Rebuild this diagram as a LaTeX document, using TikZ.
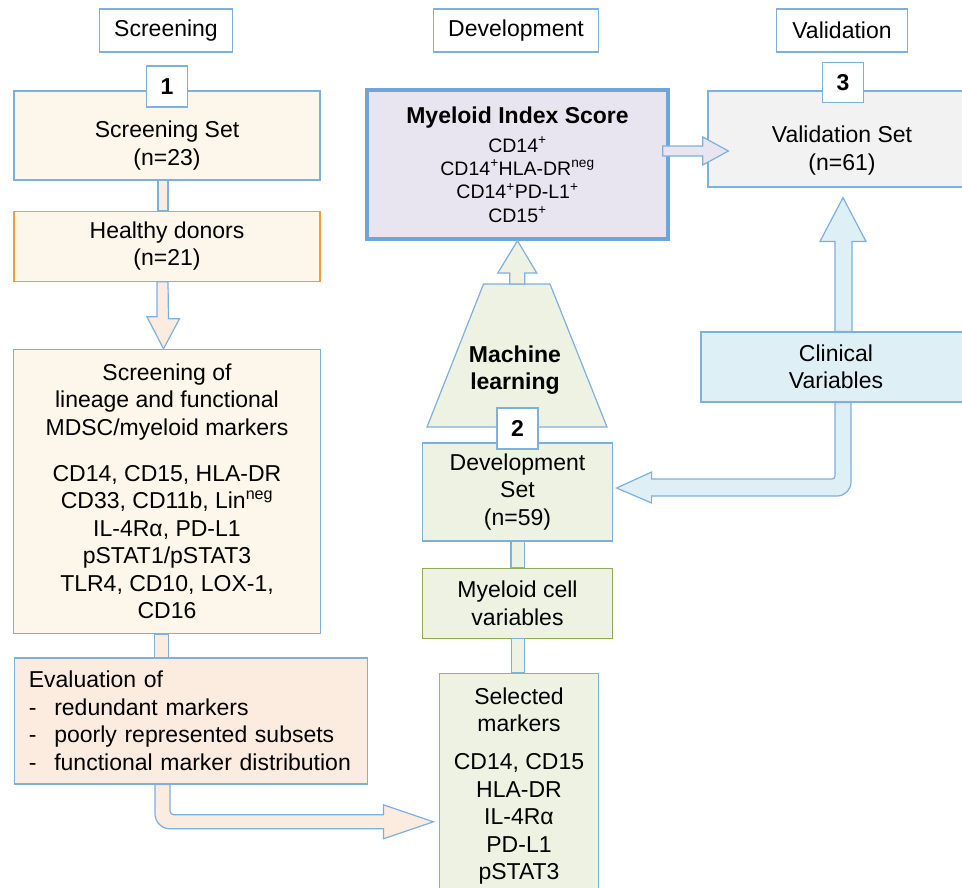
\documentclass[tikz,border=0pt]{standalone}
\usepackage{fontspec}
\setmainfont{Liberation Sans}
\usetikzlibrary{calc,positioning}

\definecolor{lineblue}{HTML}{7DB0DD}
\definecolor{misblue}{HTML}{6FA6DA}
\definecolor{cream}{HTML}{FDF6EA}
\definecolor{peach}{HTML}{FCEBDF}
\definecolor{donororange}{HTML}{F39B35}
\definecolor{lavender}{HTML}{E9E5F0}
\definecolor{valgrey}{HTML}{F2F2F2}
\definecolor{clinblue}{HTML}{DFEFF6}
\definecolor{devgreen}{HTML}{EEF2E3}
\definecolor{olivegreen}{HTML}{8FAA53}
\newcommand{\mainsize}{\fontsize{23}{27.5}\selectfont}
\newcommand{\listsize}{\fontsize{19.5}{23.3}\selectfont}

\begin{document}
\begin{tikzpicture}[x=1pt,y=-1pt,
	box/.style={rectangle,draw=lineblue,line width=1.2pt,align=center,font=\mainsize,inner sep=0pt},
	phase/.style={box,fill=white,minimum height=43pt},
	numbox/.style={box,fill=white,font=\mainsize\bfseries,minimum width=41pt,minimum height=41pt},
	bar/.style={draw=lineblue,line width=1.2pt}
]
\useasboundingbox (0,0) rectangle (962,887);
\clip (0,0) rectangle (962,887);

% phases
\node[phase,minimum width=133pt] (hscr) at (166,30.5) {Screening};
\node[phase,minimum width=165pt] (hdev) at (516,30.5) {Development};
\node[phase,minimum width=131pt] (hval) at (842,30.5) {Validation};

% screening column
\node[box,fill=cream,minimum width=306pt,minimum height=89pt] (sset) at (167,135.5) {\rule{0pt}{37pt}Screening Set\\(n=23)};
\node[box,draw=donororange,fill=cream,minimum width=306pt,minimum height=70pt,below=30pt of sset] (donors) {Healthy donors\\(n=21)};
\node[box,fill=cream,minimum width=307pt,minimum height=284pt,below=67pt of donors] (smark) {Screening of\\lineage and functional\\MDSC/myeloid markers\\[18.5pt]
  CD14, CD15, HLA-DR\\CD33, CD11b, Lin\textsuperscript{neg}\\IL-4Rα, PD-L1\\pSTAT1/pSTAT3\\TLR4, CD10, LOX-1,\\CD16};
\node[box,fill=peach,align=left,text width=325pt,minimum height=126pt,inner xsep=14pt] (evalb) at (191.3,721) {Evaluation of\\
  \makebox[25.5pt][l]{-}redundant markers\\
  \makebox[25.5pt][l]{-}poorly represented subsets\\
  \makebox[25.5pt][l]{-}functional marker distribution};
\node[numbox] (n1) at ($(sset.north)+(0,-4)$) {1};

% development column
\node[box,draw=misblue,line width=3.5pt,fill=lavender,font=\listsize,minimum width=301pt,minimum height=149pt] (mis) at (517.5,164.5)
  {{\mainsize\bfseries Myeloid Index Score}\\[5.4pt]CD14\textsuperscript{+}\\CD14\textsuperscript{+}HLA-DR\textsuperscript{neg}\\CD14\textsuperscript{+}PD-L1\textsuperscript{+}\\CD15\textsuperscript{+}};
\coordinate (mlbl) at (427,427);
\coordinate (mltl) at (483.5,284);
\coordinate (mltr) at (550,284);
\coordinate (mlbr) at (607,427);
\draw[bar,fill=devgreen] (mlbl) -- (mltl) -- (mltr) -- (mlbr) -- cycle;
\node[font=\mainsize\bfseries,align=center,inner sep=0pt] (mlearn) at (515,370) {Machine\\learning};
\node[box,fill=devgreen,minimum width=190pt,minimum height=98pt] (dset) at (517.5,492) {Development\\Set\\(n=59)};
\node[box,draw=olivegreen,fill=devgreen,minimum width=190pt,minimum height=70pt,below=26pt of dset] (mcv) {Myeloid cell\\variables};
\node[box,fill=devgreen,minimum width=159pt,inner ysep=14pt,below=34pt of mcv,xshift=1.5pt] (selm) {Selected\\markers\\[10.5pt]CD14, CD15\\HLA-DR\\IL-4Rα\\PD-L1\\pSTAT3};
\node[numbox] (n2) at ($(dset.north)+(0,-14)$) {2};

% validation column
\node[box,fill=valgrey,minimum width=268pt,minimum height=96pt] (vset) at (842,139) {\rule{0pt}{40pt}Validation Set\\(n=61)};
\node[box,fill=clinblue,minimum width=270pt,minimum height=70pt] (clin) at (836,367) {Clinical\\Variables};
\node[numbox,minimum height=40pt] (n3) at ($(vset.north)+(1,-8)$) {3};

% block arrows
\draw[bar,fill=peach] ($(sset.south)+(-9,0)$) rectangle ($(donors.north)+(1,0)$);
\draw[bar,fill=peach] ($(donors.south)+(-10,0)$) -- ++(0,35) -- ++(-10,0) -- ($(smark.north)+(-3.5,0)$)
  -- ++(16,-30) -- ++(-11,0) -- ($(donors.south)+(1,0)$) -- cycle;
\draw[bar,fill=peach] ($(smark.south)+(-12.5,0)$) rectangle ($(evalb.north -| smark.south)+(1.5,0)$);
\coordinate (evtip) at ($(selm.north west)+(-5.5,149)$);
\draw[bar,fill=peach] ($(evalb.south)+(-36.3,0)$) [rounded corners=15pt] |- ($(evtip)+(-100,7)$) [sharp corners]
  -- ($(evtip)+(-50,7)$) -- ++(0,10) -- (evtip) -- ++(-50,-17) -- ++(0,10) -- ($(evtip)+(-100,-7)$)
  [rounded corners=4pt] -| ($(evalb.south)+(-21.3,15)$) [sharp corners] -- ($(evalb.south)+(-21.3,0)$) -- cycle;

\draw[bar,fill=devgreen] ($(dset.south)+(-6.5,0)$) rectangle ($(mcv.north)+(7,0)$);
\draw[bar,fill=devgreen] ($(mcv.south)+(-6,0)$) rectangle ($(selm.north)+(5.5,0)$);
\coordinate (mltop) at ($(mltl)!0.5!(mltr)$);
\draw[bar,fill=devgreen] ($(mltop)+(-7,0)$) -- ++(0,-11) -- ++(-12,0) -- (mis.south)
  -- ($(mltop)+(20,-11)$) -- ++(-12,0) -- ($(mltop)+(8,0)$) -- cycle;

\draw[bar,fill=lavender] ($(mis.east)+(-7,-18.5)$) -- ++(40,0) -- ++(0,-9) -- ($(vset.west)+(21,12)$)
  -- ($(mis.east)+(33,0.5)$) -- ++(0,-9) -- ++(-40,0) -- cycle;

\draw[bar,fill=clinblue] ($(vset.south |- clin.north)+(-7,0)$) -- ++(0,-90) -- ++(-15,0) -- ($(vset.south)+(1,10)$)
  -- ($(vset.south |- clin.north)+(24,-90)$) -- ++(-14,0) -- ($(vset.south |- clin.north)+(10,0)$) -- cycle;
\coordinate (cltip) at ($(dset.east)+(3.5,-4)$);
\draw[bar,fill=clinblue] ($(vset.south |- clin.south)+(-7,0)$) [rounded corners=3pt] |- ($(cltip)+(100,-9)$) [sharp corners]
  -- ($(cltip)+(35,-9)$) -- ++(0,-7) -- (cltip) -- ++(35,15) -- ++(0,-7) -- ($(cltip)+(100,8)$)
  [rounded corners=14pt] -| ($(vset.south |- clin.south)+(9,40)$) [sharp corners] -- ($(vset.south |- clin.south)+(9,0)$) -- cycle;
\end{tikzpicture}
\end{document}
